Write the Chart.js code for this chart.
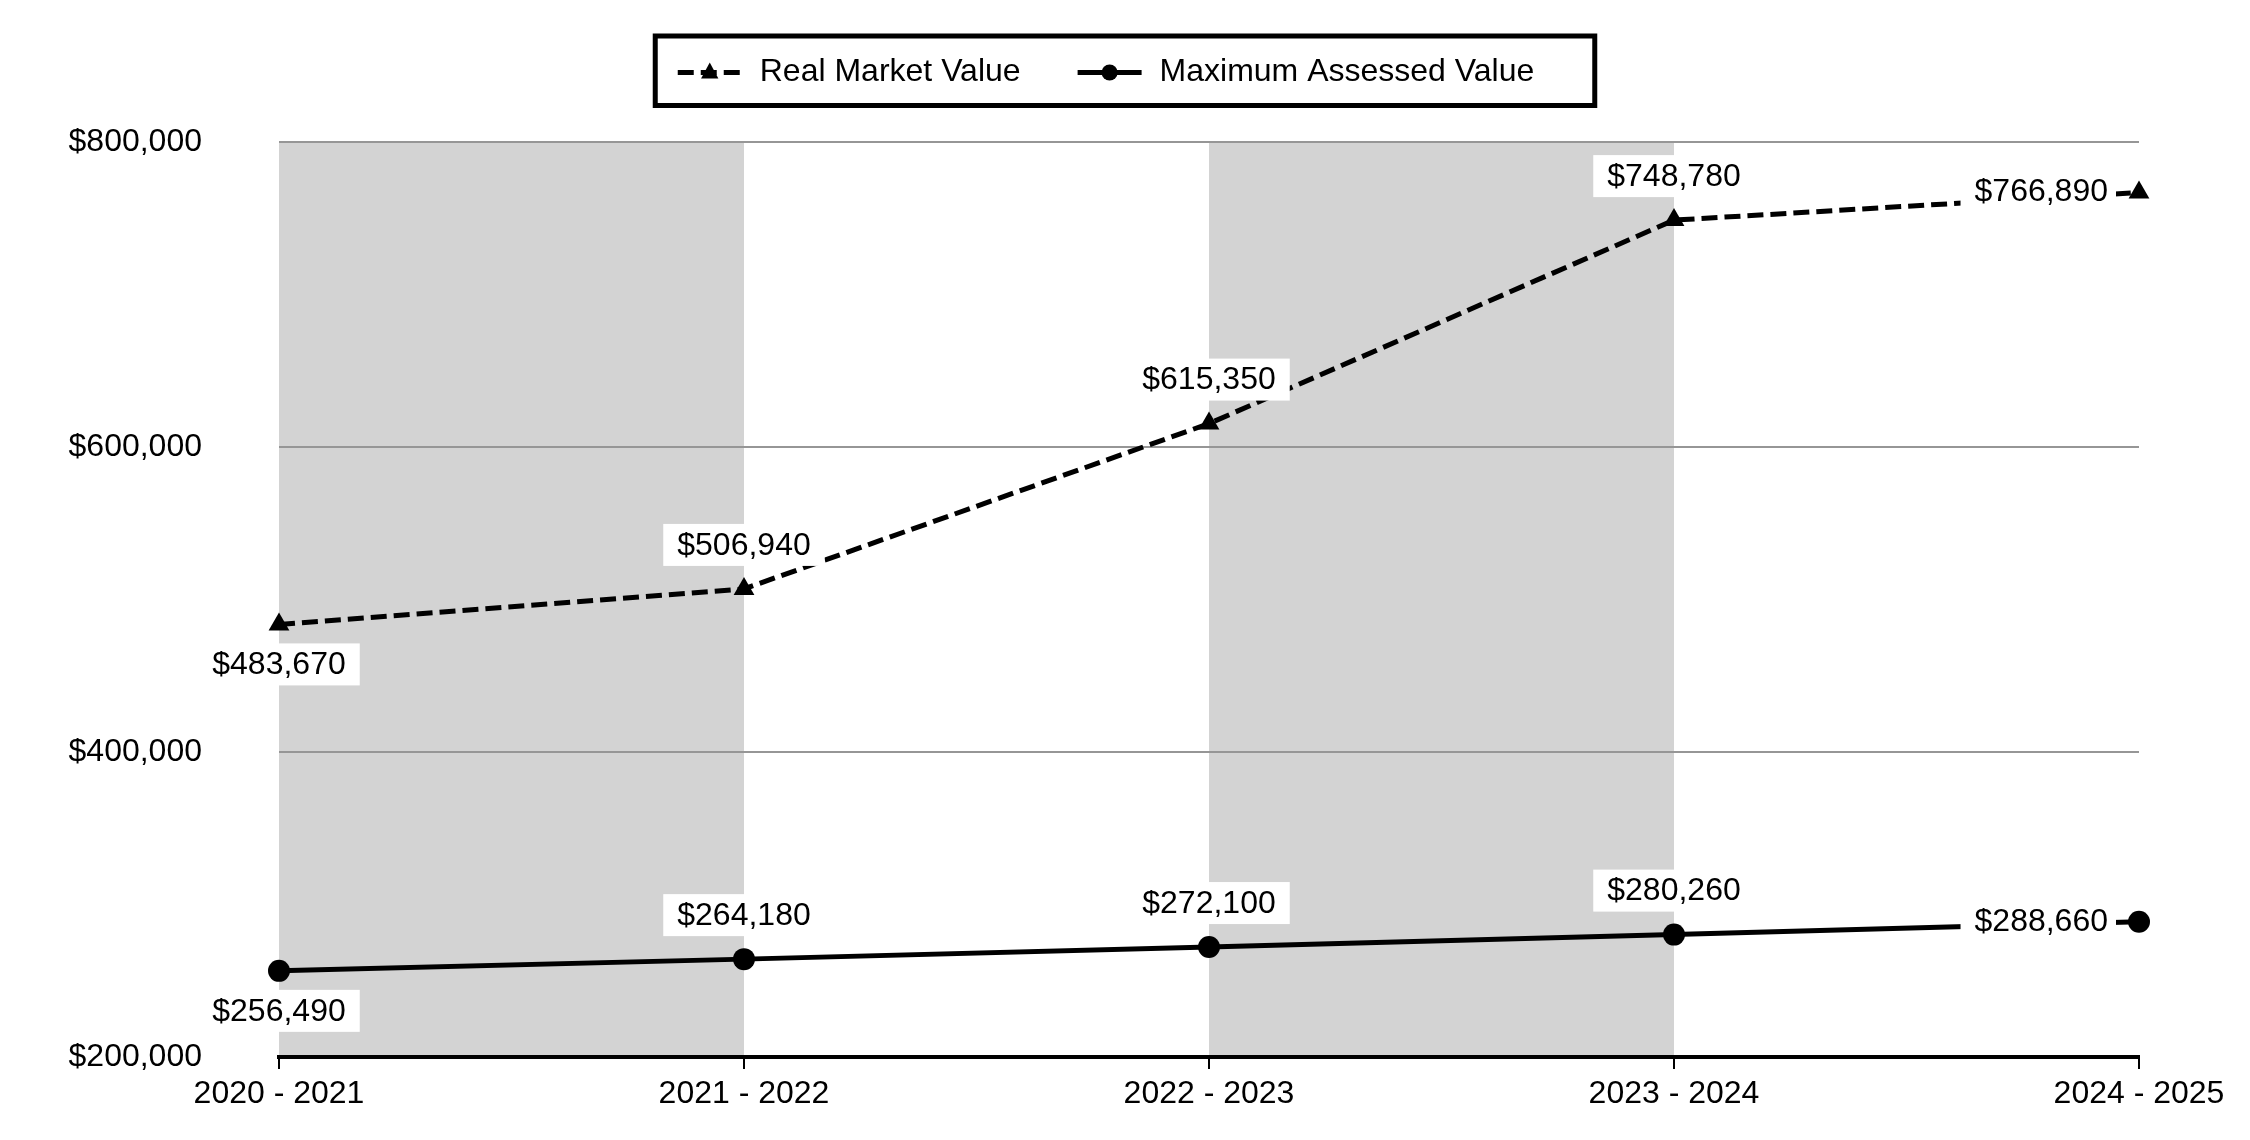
<!DOCTYPE html>
<html><head><meta charset="utf-8">
<script src="https://cdn.jsdelivr.net/npm/chart.js@4/dist/chart.umd.min.js"></script>
<style>html,body{margin:0;padding:0;background:#fff;}canvas{display:block;}</style>
</head><body>
<canvas id="c" width="2250" height="1140" style="width:2250px;height:1140px"></canvas>
<script>
const categories = ['2020 - 2021','2021 - 2022','2022 - 2023','2023 - 2024','2024 - 2025'];
const realMarketValue = [483670, 506940, 615350, 748780, 766890];
const maximumAssessedValue = [256490, 264180, 272100, 280260, 288660];
const yTickValues = [200000, 400000, 600000, 800000];
const shadedBands = [[0, 1], [2, 3]];
const seriesNames = ['Real Market Value', 'Maximum Assessed Value'];

const FAMILY = '"Liberation Sans", Arial, sans-serif';
const FONT = '32px ' + FAMILY;
const fmt = v => '$' + v.toLocaleString('en-US');

const bandsPlugin = {
  id: 'bands',
  beforeDraw(chart) {
    const {ctx, chartArea: a, scales: {x}} = chart;
    ctx.save();
    ctx.fillStyle = '#d3d3d3';
    shadedBands.forEach(([s, e]) => {
      const x0 = x.getPixelForValue(s), x1 = x.getPixelForValue(e);
      ctx.fillRect(x0, a.top, x1 - x0, a.bottom - a.top);
    });
    ctx.restore();
  }
};

const placements = ['below', 'above', 'above', 'above', 'left'];
const labelsPlugin = {
  id: 'pointLabels',
  afterDatasetsDraw(chart) {
    const ctx = chart.ctx;
    ctx.save();
    ctx.font = FONT;
    ctx.textAlign = 'center';
    ctx.textBaseline = 'middle';
    chart.data.datasets.forEach((ds, di) => {
      const meta = chart.getDatasetMeta(di);
      meta.data.forEach((pt, i) => {
        const txt = fmt(ds.data[i]);
        const w = ctx.measureText(txt).width;
        const p = placements[i];
        let cx, cy, padL = 14, padR = 14;
        if (p === 'below') { cx = pt.x; cy = pt.y + 40; }
        else if (p === 'above') { cx = pt.x; cy = pt.y - 44; }
        else { cx = pt.x - 31 - w / 2; cy = pt.y - 1; padR = 8; }
        ctx.fillStyle = '#fff';
        ctx.fillRect(cx - w / 2 - padL, cy - 21, w + padL + padR, 42);
        ctx.fillStyle = '#000';
        ctx.fillText(txt, cx, cy + 1);
      });
    });
    ctx.restore();
  }
};

function drawMarker(ctx, style, x, y, r) {
  ctx.beginPath();
  if (style === 'triangle') {
    ctx.moveTo(x, y - r);
    ctx.lineTo(x + r * 0.866, y + r * 0.6);
    ctx.lineTo(x - r * 0.866, y + r * 0.6);
    ctx.closePath();
  } else {
    ctx.arc(x, y, r, 0, Math.PI * 2);
  }
  ctx.fill();
}

const legendPlugin = {
  id: 'boxLegend',
  afterDraw(chart) {
    const ctx = chart.ctx;
    ctx.save();
    ctx.font = FONT;
    const ds = chart.data.datasets;
    const sample = 64, gapS = 18, gapItem = 57, padL = 22.5, padR = 60.5;
    const widths = ds.map(d => ctx.measureText(d.label).width);
    let total = padL + padR + gapItem * (ds.length - 1);
    widths.forEach(w => total += sample + gapS + w);
    const top = 36, h = 69.5, cy = 72.5;
    const left = chart.width / 2 - total / 2;
    ctx.fillStyle = '#fff';
    ctx.fillRect(left, top, total, h);
    ctx.lineWidth = 5;
    ctx.strokeStyle = '#000';
    ctx.strokeRect(left, top, total, h);
    let x = left + padL;
    ds.forEach((d, i) => {
      ctx.strokeStyle = '#000';
      ctx.fillStyle = '#000';
      ctx.lineWidth = 5;
      ctx.setLineDash(d.borderDash || []);
      ctx.beginPath();
      ctx.moveTo(x, cy);
      ctx.lineTo(x + sample, cy);
      ctx.stroke();
      ctx.setLineDash([]);
      drawMarker(ctx, d.pointStyle, x + sample / 2, cy, d.pointStyle === 'triangle' ? 10 : 8);
      x += sample + gapS;
      ctx.textAlign = 'left';
      ctx.textBaseline = 'middle';
      ctx.fillText(d.label, x, cy);
      x += widths[i] + gapItem;
    });
    ctx.restore();
  }
};

new Chart(document.getElementById('c'), {
  type: 'line',
  data: {
    labels: categories,
    datasets: [
      {
        label: seriesNames[0], data: realMarketValue,
        borderColor: '#000', backgroundColor: '#000', borderWidth: 5,
        borderDash: [16, 7], borderCapStyle: 'butt', tension: 0, fill: false,
        pointStyle: 'triangle', pointRadius: 12, pointBackgroundColor: '#000',
        pointBorderColor: '#000', pointBorderWidth: 0, clip: false
      },
      {
        label: seriesNames[1], data: maximumAssessedValue,
        borderColor: '#000', backgroundColor: '#000', borderWidth: 5,
        tension: 0, fill: false,
        pointStyle: 'circle', pointRadius: 11, pointBackgroundColor: '#000',
        pointBorderColor: '#000', pointBorderWidth: 0, clip: false
      }
    ]
  },
  options: {
    responsive: false, devicePixelRatio: 1, animation: false,
    layout: { padding: { top: 142, right: 111, left: 0, bottom: 0 } },
    plugins: { legend: { display: false }, tooltip: { enabled: false } },
    scales: {
      x: {
        type: 'category', offset: false,
        grid: { drawOnChartArea: false, drawTicks: true, tickLength: 12, color: '#000', lineWidth: 2 },
        border: { display: true, color: '#000', width: 4 },
        ticks: { color: '#000', font: { family: FAMILY, size: 32 }, padding: 6, maxRotation: 0, autoSkip: false },
        afterFit(s) { s.height = 83; }
      },
      y: {
        min: yTickValues[0], max: yTickValues[yTickValues.length - 1],
        afterBuildTicks(s) { s.ticks = yTickValues.map(v => ({ value: v })); },
        grid: {
          drawTicks: false,
          color: c => c.tick && c.tick.value === yTickValues[0] ? '#000' : '#969696',
          lineWidth: c => c.tick && c.tick.value === yTickValues[0] ? 4 : 2
        },
        border: { display: false },
        ticks: { color: '#000', font: { family: FAMILY, size: 32 }, padding: 77, callback: v => fmt(v) },
        afterFit(s) { s.width = 279; s.paddingTop = 0; s.paddingBottom = 0; }
      }
    }
  },
  plugins: [bandsPlugin, labelsPlugin, legendPlugin]
});
</script>
</body></html>
